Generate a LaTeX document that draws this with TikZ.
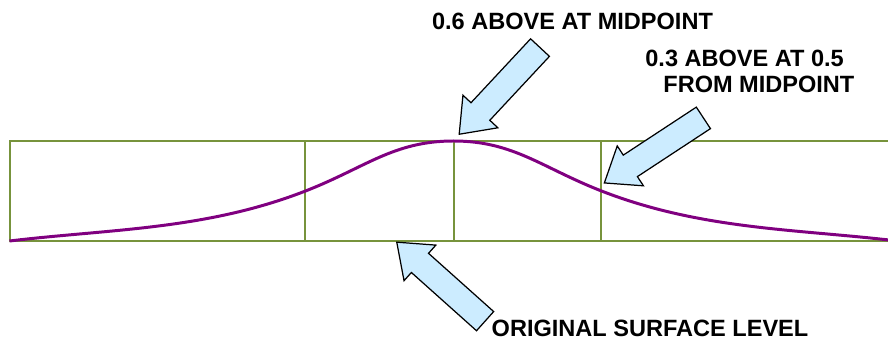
\documentclass[tikz,border=0pt]{standalone}
\usepackage{fontspec}
\setmainfont{Liberation Sans}
\usepackage{xcolor}
\usepackage{tikz}
\usetikzlibrary{shapes.arrows}
\definecolor{olive}{RGB}{119,147,60}
\definecolor{plum}{RGB}{128,0,128}
\definecolor{ice}{RGB}{204,236,255}

\begin{document}
\begin{tikzpicture}[every node/.style={font=\bfseries\fontsize{13.4}{14.8}\selectfont,inner sep=0pt},
  gridline/.style={olive,line width=1.1pt},
  calloutarrow/.style={single arrow,draw=black,fill=ice,line width=0.7pt,
    inner xsep=0pt,inner ysep=0.245cm,minimum height=2.37cm,minimum width=0.93cm,
    single arrow head extend=0.22cm,single arrow tip angle=75}]
\useasboundingbox (0,0) rectangle (17.76,6.82);
\clip (0,0) rectangle (17.76,6.82);
\draw[gridline] (0.2,2) rectangle (17.95,4);
\foreach \x in {6.1,9.08,12.02}
  \draw[gridline] (\x,2) -- (\x,4);
\draw[plum,line width=1.7pt] (0.19,2) .. controls (2.19,2.24) and (4.11,2.22) .. (6.11,3)
  .. controls (7.31,3.468) and (7.87,4) .. (9.07,4)
  .. controls (10.27,4) and (10.83,3.468) .. (12.03,3)
  .. controls (14.03,2.22) and (15.95,2.24) .. (17.95,2);
\node[calloutarrow,rotate=227,anchor=tip] (arrpeak) at (9.17,4.12) {};
\node[calloutarrow,rotate=213.3,anchor=tip] (arrhalf) at (12.07,3.15) {};
\node[calloutarrow,rotate=138.2,anchor=tip] (arrbase) at (7.92,1.99) {};
\node[anchor=base] (lblpeak) at (11.45,6.23) {0.6 ABOVE AT MIDPOINT};
\node[anchor=base west,align=left] (lblhalf) at (12.9,4.96) {0.3 ABOVE AT 0.5\\\hspace*{0.36cm}FROM MIDPOINT};
\node[anchor=base] (lblbase) at (13.0,0.09) {ORIGINAL SURFACE LEVEL};
\end{tikzpicture}
\end{document}
